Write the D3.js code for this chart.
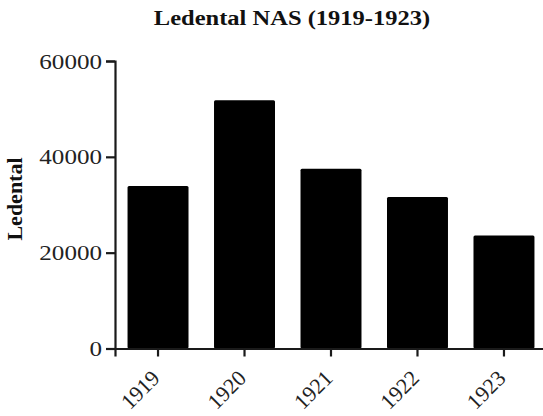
<!DOCTYPE html>
<html>
<head>
<meta charset="utf-8">
<script src="https://cdn.jsdelivr.net/npm/d3@7"></script>
<style>
  body { margin: 0; background: #fff; }
  text { font-family: "Liberation Serif", "Times New Roman", serif; }
</style>
</head>
<body>
<div id="chart"></div>
<script>
// data
var years = ["1919", "1920", "1921", "1922", "1923"];
var ledental = [33900, 51800, 37500, 31600, 23600];
var yTicks = [0, 20000, 40000, 60000];

var W = 543, H = 416;
var margin = {top: 61, left: 115, bottom: 67};
var stretch = 1.14; // the source text is a bit wide

var svg = d3.select("#chart").append("svg")
    .attr("width", W)
    .attr("height", H);

var data = years.map(function(y, i) { return {year: y, value: ledental[i]}; });

//scales
var xScale = d3.scaleBand()
    .domain(years)
    .range([margin.left, 547])
    .paddingInner(0.295)
    .paddingOuter(0.145);

var yScale = d3.scaleLinear()
    .domain([0, 60000])
    .range([H - margin.bottom - 0.5, margin.top]);

//bars
svg.selectAll("rect.bar")
    .data(data)
    .enter().append("rect")
    .attr("class", "bar")
    .attr("x", function(d) { return xScale(d.year); })
    .attr("width", xScale.bandwidth())
    .attr("y", function(d) { return yScale(d.value); })
    .attr("height", function(d) { return yScale(0) - yScale(d.value); })
    .attr("rx", 1.5)
    .attr("fill", "#000");

//y axis
var yAxis = d3.axisLeft(yScale)
    .tickValues(yTicks)
    .tickSizeOuter(0)
    .tickSize(9)
    .tickFormat(d3.format("d"));

var gy = svg.append("g")
    .attr("transform", "translate(" + margin.left + ",0)")
    .call(yAxis);
gy.select(".domain").attr("stroke", "#1a1a1a").attr("stroke-width", 2.2);
gy.selectAll(".tick line").attr("stroke", "#1a1a1a").attr("stroke-width", 2.2);
gy.selectAll(".tick text")
    .attr("x", 0)
    .attr("transform", "translate(-13,0) scale(" + stretch + ",1)")
    .attr("fill", "#222")
    .style("font-size", "22px");

//x axis
var xAxis = d3.axisBottom(xScale)
    .tickSizeOuter(0)
    .tickSize(8);

var gx = svg.append("g")
    .attr("transform", "translate(0," + yScale(0) + ")")
    .call(xAxis);
gx.select(".domain").attr("stroke", "#1a1a1a").attr("stroke-width", 2.2);
gx.selectAll(".tick line").attr("stroke", "#1a1a1a").attr("stroke-width", 2.2);
gx.selectAll(".tick text")
    .attr("x", 0).attr("y", 0).attr("dy", 0)
    .style("text-anchor", "end")
    .attr("fill", "#222")
    .style("font-size", "22px")
    .attr("transform", "translate(3,31) rotate(-45)");

//axis title
svg.append("text")
    .attr("transform", "translate(22,199) rotate(-90)")
    .attr("text-anchor", "middle")
    .style("font-size", "22px")
    .style("font-weight", "bold")
    .attr("fill", "#111")
    .text("Ledental");

//chart title
svg.append("text")
    .attr("transform", "translate(292,25) scale(" + stretch + ",1)")
    .attr("text-anchor", "middle")
    .style("font-size", "21.5px")
    .style("font-weight", "bold")
    .attr("fill", "#111")
    .text("Ledental NAS (1919-1923)");
</script>
</body>
</html>
